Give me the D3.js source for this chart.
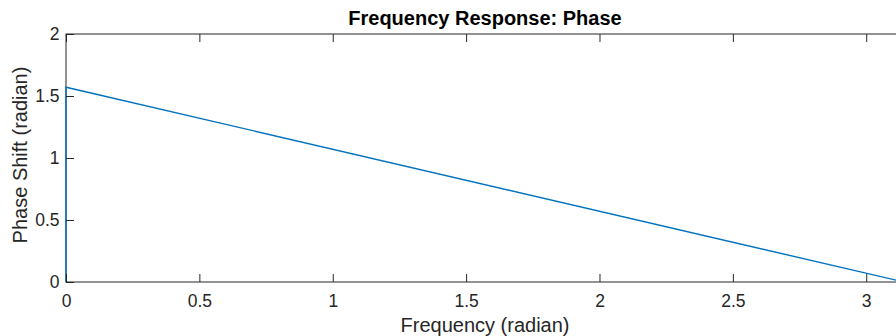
<!DOCTYPE html>
<html>
<head>
<meta charset="utf-8">
<script src="https://cdn.jsdelivr.net/npm/d3@7"></script>
<style>
  html, body { margin: 0; padding: 0; background: #fff; overflow: hidden; }
  svg { display: block; font-family: "Liberation Sans", Arial, Helvetica, sans-serif; }
</style>
</head>
<body>
<svg id="chart" width="896" height="336"></svg>
<script>
// Phase response samples (radian frequency vs. phase shift)
const frequency = [0, 0, 3.14159];
const phase = [0, 1.5708, 0];

const xTicks = [0, 0.5, 1, 1.5, 2, 2.5, 3];
const yTicks = [0, 0.5, 1, 1.5, 2];

const titleText = "Frequency Response: Phase";
const xLabelText = "Frequency (radian)";
const yLabelText = "Phase Shift (radian)";

const svg = d3.select("#chart");
const plotLeft = 66, plotRight = 904, plotTop = 34, plotBottom = 282;
const axisColor = "#262626";
const tickLen = 8;
const tickFont = 17.5;
const labelFont = 20;

const x = d3.scaleLinear().domain([0, Math.PI]).range([plotLeft, plotRight]);
const y = d3.scaleLinear().domain([0, 2]).range([plotBottom, plotTop]);

// Axes box
svg.append("rect")
  .attr("x", plotLeft).attr("y", plotTop)
  .attr("width", plotRight - plotLeft).attr("height", plotBottom - plotTop)
  .attr("fill", "none").attr("stroke", axisColor).attr("stroke-width", 1);

// Data line
const line = d3.line()
  .x((d, i) => x(frequency[i]))
  .y((d, i) => y(phase[i]));
svg.append("path")
  .datum(frequency)
  .attr("d", line)
  .attr("fill", "none")
  .attr("stroke", "#0072BD")
  .attr("stroke-width", 1.4);

// Bottom and left axes with inward ticks
const xAxis = d3.axisBottom(x).tickValues(xTicks).tickSizeInner(-tickLen).tickSizeOuter(0)
  .tickPadding(12.5).tickFormat(d3.format("~g"));
svg.append("g").attr("transform", `translate(0,${plotBottom})`).call(xAxis);

const yAxis = d3.axisLeft(y).tickValues(yTicks).tickSizeInner(-tickLen).tickSizeOuter(0)
  .tickPadding(6.5).tickFormat(d3.format("~g"));
svg.append("g").attr("transform", `translate(${plotLeft},0)`).call(yAxis);

// Mirrored ticks on top and right edges
svg.append("g").attr("transform", `translate(0,${plotTop})`)
  .call(d3.axisTop(x).tickValues(xTicks).tickSizeInner(-tickLen).tickSizeOuter(0).tickFormat(""));
svg.append("g").attr("transform", `translate(${plotRight},0)`)
  .call(d3.axisRight(y).tickValues(yTicks).tickSizeInner(-tickLen).tickSizeOuter(0).tickFormat(""));

svg.selectAll(".domain").remove();
svg.selectAll(".tick line").attr("stroke", axisColor).attr("stroke-width", 1);
svg.selectAll(".tick text")
  .attr("fill", axisColor)
  .style("font-size", tickFont + "px")
  .style("font-family", "'Liberation Sans', Arial, sans-serif");

// Title and axis labels
svg.append("text")
  .attr("x", (plotLeft + plotRight) / 2).attr("y", 25)
  .attr("text-anchor", "middle")
  .attr("font-weight", "bold").attr("font-size", labelFont)
  .attr("fill", "#000")
  .text(titleText);

svg.append("text")
  .attr("x", (plotLeft + plotRight) / 2).attr("y", 332)
  .attr("text-anchor", "middle")
  .attr("font-size", labelFont)
  .attr("fill", axisColor)
  .text(xLabelText);

svg.append("text")
  .attr("transform", `translate(27,155) rotate(-90)`)
  .attr("text-anchor", "middle")
  .attr("font-size", labelFont)
  .attr("fill", axisColor)
  .text(yLabelText);
</script>
</body>
</html>
